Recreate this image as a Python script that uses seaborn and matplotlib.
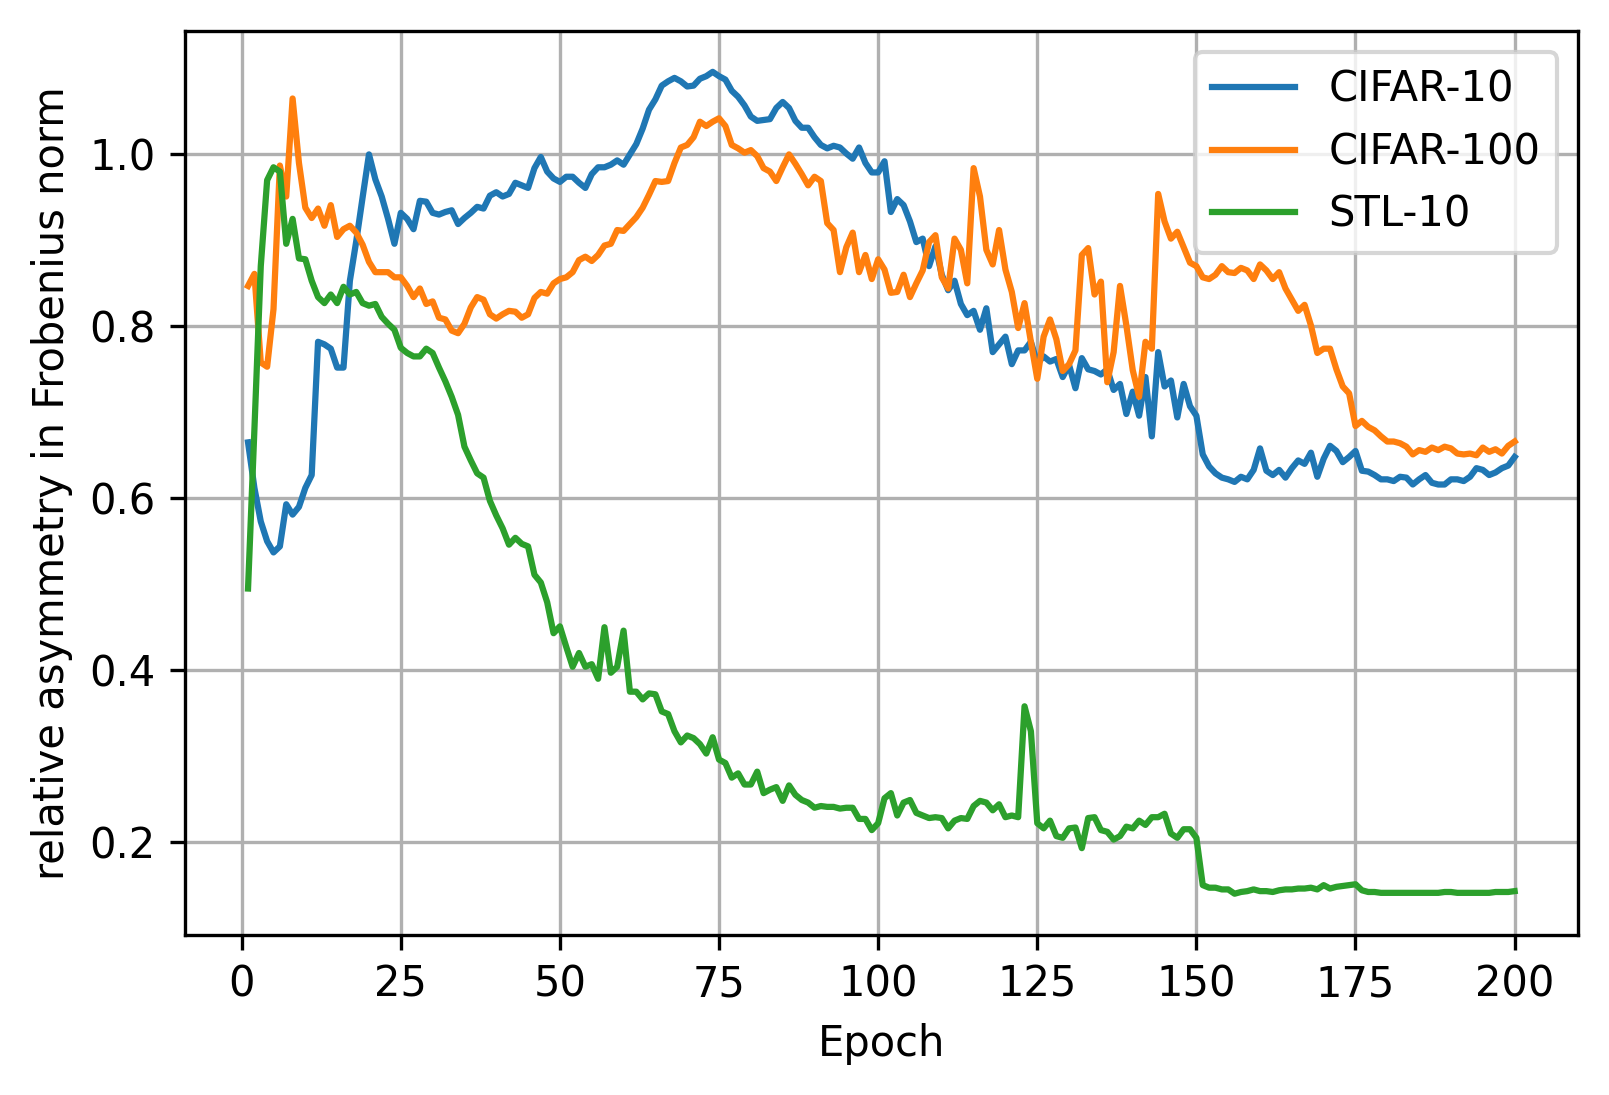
import numpy as np
import pandas as pd
import seaborn as sns
import matplotlib
matplotlib.use('Agg')
import matplotlib.pyplot as plt

# values, epochs 1..200
epochs = np.arange(1, 201)

cifar10 = [
    0.665, 0.612, 0.573, 0.550, 0.537, 0.544, 0.593, 0.581, 0.590, 0.612,
    0.627, 0.782, 0.779, 0.774, 0.752, 0.752, 0.853, 0.899, 0.950, 1.000,
    0.971, 0.951, 0.925, 0.896, 0.932, 0.925, 0.913, 0.946, 0.945, 0.932,
    0.930, 0.933, 0.935, 0.919, 0.926, 0.932, 0.939, 0.937, 0.952, 0.956,
    0.951, 0.954, 0.967, 0.964, 0.961, 0.984, 0.997, 0.980, 0.972, 0.968,
    0.974, 0.974, 0.967, 0.961, 0.977, 0.985, 0.985, 0.988, 0.993, 0.988,
    1.000, 1.012, 1.030, 1.052, 1.064, 1.080, 1.085, 1.089, 1.085, 1.079,
    1.080, 1.088, 1.091, 1.096, 1.091, 1.087, 1.074, 1.067, 1.057, 1.044,
    1.039, 1.040, 1.041, 1.054, 1.061, 1.054, 1.039, 1.031, 1.031, 1.020,
    1.011, 1.007, 1.010, 1.008, 1.001, 0.995, 1.008, 0.990, 0.979, 0.979,
    0.992, 0.933, 0.948, 0.941, 0.922, 0.898, 0.902, 0.870, 0.893, 0.860,
    0.842, 0.853, 0.826, 0.813, 0.818, 0.796, 0.821, 0.770, 0.779, 0.788,
    0.756, 0.772, 0.772, 0.782, 0.757, 0.765, 0.759, 0.762, 0.741, 0.755,
    0.728, 0.763, 0.750, 0.748, 0.744, 0.750, 0.726, 0.733, 0.698, 0.724,
    0.696, 0.741, 0.672, 0.770, 0.730, 0.737, 0.694, 0.733, 0.707, 0.696,
    0.651, 0.637, 0.629, 0.624, 0.622, 0.619, 0.625, 0.622, 0.633, 0.658,
    0.632, 0.627, 0.633, 0.624, 0.635, 0.644, 0.640, 0.653, 0.625, 0.646,
    0.661, 0.655, 0.642, 0.648, 0.655, 0.632, 0.631, 0.627, 0.622, 0.622,
    0.620, 0.625, 0.624, 0.616, 0.622, 0.627, 0.618, 0.616, 0.616, 0.622,
    0.622, 0.620, 0.625, 0.635, 0.633, 0.627, 0.630, 0.635, 0.638, 0.648,
]

cifar100 = [
    0.847, 0.861, 0.758, 0.753, 0.820, 0.987, 0.951, 1.065, 0.990, 0.938,
    0.926, 0.937, 0.917, 0.941, 0.904, 0.913, 0.917, 0.909, 0.895, 0.875,
    0.863, 0.863, 0.863, 0.857, 0.857, 0.847, 0.834, 0.844, 0.826, 0.829,
    0.810, 0.808, 0.795, 0.792, 0.803, 0.822, 0.834, 0.831, 0.814, 0.809,
    0.814, 0.818, 0.817, 0.810, 0.814, 0.833, 0.840, 0.838, 0.850, 0.855,
    0.857, 0.863, 0.877, 0.881, 0.876, 0.883, 0.894, 0.896, 0.912, 0.911,
    0.919, 0.927, 0.938, 0.953, 0.969, 0.968, 0.969, 0.990, 1.008, 1.011,
    1.020, 1.038, 1.033, 1.038, 1.042, 1.033, 1.011, 1.007, 1.002, 1.005,
    0.998, 0.984, 0.980, 0.969, 0.985, 1.000, 0.989, 0.977, 0.964, 0.974,
    0.969, 0.920, 0.912, 0.863, 0.892, 0.909, 0.863, 0.883, 0.855, 0.878,
    0.866, 0.839, 0.840, 0.860, 0.834, 0.850, 0.865, 0.898, 0.906, 0.857,
    0.844, 0.902, 0.889, 0.850, 0.984, 0.951, 0.889, 0.872, 0.912, 0.866,
    0.840, 0.798, 0.827, 0.782, 0.739, 0.788, 0.808, 0.785, 0.748, 0.756,
    0.772, 0.883, 0.891, 0.837, 0.852, 0.735, 0.770, 0.847, 0.801, 0.749,
    0.718, 0.782, 0.774, 0.954, 0.922, 0.902, 0.910, 0.892, 0.874, 0.870,
    0.857, 0.855, 0.860, 0.870, 0.863, 0.862, 0.868, 0.865, 0.855, 0.872,
    0.865, 0.855, 0.863, 0.844, 0.831, 0.818, 0.825, 0.801, 0.769, 0.774,
    0.774, 0.750, 0.730, 0.722, 0.684, 0.690, 0.683, 0.679, 0.672, 0.666,
    0.666, 0.664, 0.660, 0.651, 0.656, 0.654, 0.659, 0.656, 0.660, 0.658,
    0.652, 0.651, 0.652, 0.650, 0.659, 0.654, 0.657, 0.652, 0.661, 0.666,
]

stl10 = [
    0.495, 0.680, 0.870, 0.970, 0.985, 0.980, 0.896, 0.925, 0.879, 0.878,
    0.853, 0.834, 0.827, 0.837, 0.827, 0.846, 0.837, 0.840, 0.827, 0.824,
    0.826, 0.811, 0.803, 0.796, 0.775, 0.769, 0.765, 0.765, 0.774, 0.769,
    0.752, 0.736, 0.718, 0.697, 0.660, 0.644, 0.629, 0.624, 0.597, 0.580,
    0.565, 0.546, 0.554, 0.547, 0.544, 0.511, 0.502, 0.479, 0.443, 0.451,
    0.427, 0.404, 0.420, 0.404, 0.407, 0.390, 0.450, 0.397, 0.404, 0.446,
    0.375, 0.375, 0.366, 0.373, 0.372, 0.352, 0.349, 0.329, 0.316, 0.324,
    0.321, 0.314, 0.303, 0.322, 0.296, 0.292, 0.275, 0.280, 0.267, 0.267,
    0.282, 0.257, 0.261, 0.264, 0.248, 0.266, 0.255, 0.249, 0.246, 0.240,
    0.242, 0.241, 0.241, 0.239, 0.240, 0.240, 0.227, 0.227, 0.214, 0.222,
    0.251, 0.257, 0.231, 0.246, 0.249, 0.234, 0.231, 0.228, 0.229, 0.228,
    0.216, 0.225, 0.228, 0.227, 0.242, 0.248, 0.246, 0.237, 0.244, 0.229,
    0.231, 0.229, 0.358, 0.329, 0.222, 0.216, 0.225, 0.207, 0.205, 0.216,
    0.217, 0.193, 0.228, 0.229, 0.214, 0.212, 0.203, 0.207, 0.218, 0.216,
    0.225, 0.220, 0.229, 0.229, 0.233, 0.210, 0.205, 0.215, 0.215, 0.205,
    0.150, 0.147, 0.147, 0.145, 0.145, 0.140, 0.142, 0.143, 0.145, 0.143,
    0.143, 0.142, 0.144, 0.145, 0.145, 0.146, 0.146, 0.147, 0.145, 0.150,
    0.146, 0.148, 0.149, 0.150, 0.151, 0.144, 0.142, 0.142, 0.141, 0.141,
    0.141, 0.141, 0.141, 0.141, 0.141, 0.141, 0.141, 0.141, 0.142, 0.142,
    0.141, 0.141, 0.141, 0.141, 0.141, 0.141, 0.142, 0.142, 0.142, 0.143,
]

names = ['CIFAR-10', 'CIFAR-100', 'STL-10']
colors = ['#1f77b4', '#ff7f0e', '#2ca02c']

df = pd.concat([
    pd.DataFrame({'Epoch': epochs, 'value': vals, 'dataset': name})
    for name, vals in zip(names, [cifar10, cifar100, stl10])
])

fig = plt.figure(figsize=(1609 / 300, 1095 / 300), dpi=300)
ax = fig.add_axes([0.1148, 0.1463, 0.9807 - 0.1148, 0.9719 - 0.1463])

for name, col in zip(names, colors):
    sub = df[df['dataset'] == name]
    sns.lineplot(data=sub, x='Epoch', y='value', color=col, linewidth=1.5,
                 label=name, ax=ax)

ax.grid(True)
ax.set_xlabel('Epoch')
ax.set_ylabel('relative asymmetry in Frobenius norm')
ax.legend(loc='upper right')

fig.savefig('out.png', dpi=300)
